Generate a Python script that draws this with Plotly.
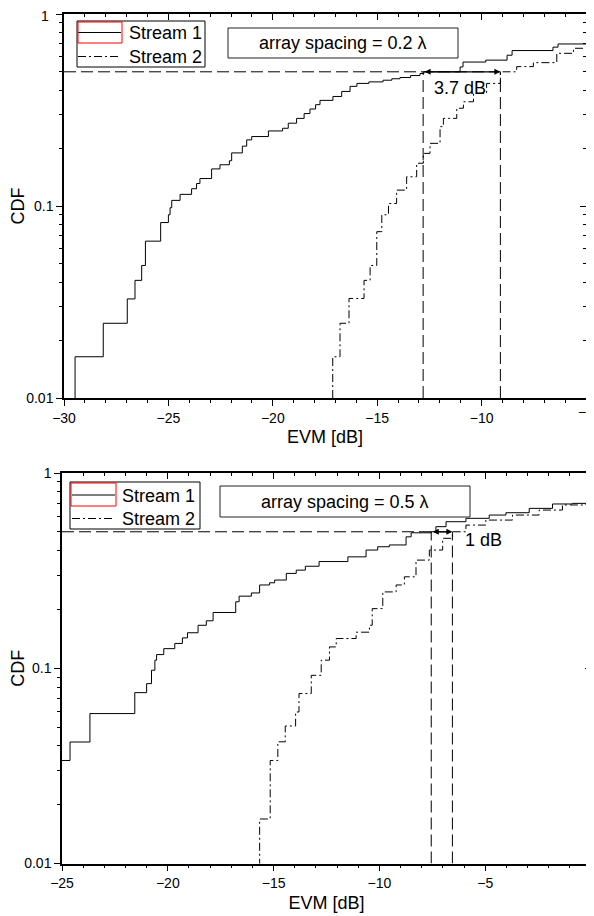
import plotly.graph_objects as go

# ---------------- data ----------------
# Panel A: array spacing = 0.2 lambda  (EVM in dB, CDF)
a_s1_x = [-29.47, -28.12, -26.97, -26.60, -26.28, -26.10, -25.37, -25.00, -24.92, -24.84,
          -24.44, -23.89, -23.65, -23.49, -22.93, -22.53, -22.08, -21.97, -21.46, -21.25,
          -21.01, -20.21, -19.53, -19.26, -18.86, -18.50, -18.22, -17.95, -17.74, -17.12,
          -16.70, -16.30, -15.97, -15.40, -14.72, -14.30, -13.91, -13.40, -12.95, -12.76,
          -11.03, -10.89, -9.80, -8.78, -8.54, -6.58, -6.34]
a_s1_y = [0.0164, 0.0245, 0.0328, 0.041, 0.049, 0.0656, 0.082, 0.090, 0.098, 0.107,
          0.115, 0.123, 0.131, 0.139, 0.156, 0.164, 0.172, 0.189, 0.205, 0.221,
          0.230, 0.246, 0.254, 0.270, 0.286, 0.303, 0.320, 0.337, 0.355, 0.372,
          0.395, 0.420, 0.435, 0.443, 0.452, 0.460, 0.467, 0.478, 0.490, 0.500,
          0.530, 0.562, 0.575, 0.610, 0.645, 0.672, 0.698]
a_s2_x = [-17.13, -16.78, -16.35, -15.63, -15.34, -15.02, -14.78, -14.46, -14.07, -13.59,
          -13.11, -12.79, -12.47, -11.99, -11.83, -11.19, -10.87, -10.39, -9.76, -9.10,
          -8.32, -7.52, -6.40, -5.60]
a_s2_y = [0.0164, 0.0245, 0.033, 0.041, 0.049, 0.0735, 0.090, 0.103, 0.121, 0.142,
          0.167, 0.188, 0.212, 0.259, 0.286, 0.323, 0.349, 0.386, 0.435, 0.500,
          0.532, 0.558, 0.624, 0.663]
a_marks = [-12.8, -9.1]
a_gap_label = "3.7 dB"
a_box_label = "array spacing = 0.2 λ"

# Panel B: array spacing = 0.5 lambda
b_s1_x = [-25.20, -24.62, -23.68, -21.56, -21.00, -20.77, -20.61, -20.53, -20.19, -19.67,
          -19.31, -19.07, -18.57, -18.18, -17.86, -16.79, -16.63, -16.05, -15.66, -15.19,
          -14.95, -14.40, -13.93, -13.50, -12.85, -11.49, -10.63, -10.08, -9.53, -8.74,
          -8.50, -7.56, -7.33, -6.85, -5.91, -4.81, -4.02, -2.92, -1.82, -0.88]
b_s1_y = [0.0337, 0.0419, 0.0586, 0.075, 0.0834, 0.0977, 0.110, 0.1175, 0.126, 0.134,
          0.143, 0.152, 0.166, 0.175, 0.193, 0.219, 0.234, 0.243, 0.267, 0.274,
          0.283, 0.306, 0.318, 0.333, 0.352, 0.372, 0.403, 0.419, 0.428, 0.471,
          0.494, 0.500, 0.531, 0.563, 0.586, 0.609, 0.626, 0.659, 0.694, 0.699]
b_s2_x = [-15.66, -15.16, -14.80, -14.45, -13.96, -13.80, -13.22, -12.75, -12.36, -12.04,
          -11.10, -10.47, -10.34, -9.84, -9.21, -8.82, -8.27, -7.64, -7.01, -6.54,
          -5.91, -4.97, -3.71, -2.45, -1.35, -0.30]
b_s2_y = [0.0169, 0.0337, 0.042, 0.0506, 0.0597, 0.0742, 0.092, 0.110, 0.1286, 0.142,
          0.153, 0.166, 0.202, 0.246, 0.267, 0.294, 0.358, 0.403, 0.463, 0.500,
          0.541, 0.574, 0.609, 0.646, 0.686, 0.694]
b_marks = [-7.55, -6.55]
b_gap_label = "1 dB"
b_box_label = "array spacing = 0.5 λ"

series_names = ["Stream 1", "Stream 2"]
y_tickvals = [0.01, 0.1, 1]
y_ticktext = ["0.01", "0.1", "1"]
ref_level = 0.5
y_min = 0.01
LOG_REF = -0.30103  # log10(0.5); annotations on log axes use log units

# ---------------- figure ----------------
PAGE_OFF = 8                      # default body margin of the html page
W, H = 594 - PAGE_OFF, 916 - PAGE_OFF
FONT = "Liberation Sans, Arial, sans-serif"


def px(xp):  # screen px -> paper fraction
    return (xp - PAGE_OFF) / W


def py(yp):
    return 1 - (yp - PAGE_OFF) / H


def step_xy(xs, ys, x_end):
    return [xs[0]] + xs + [x_end], [0.001] + ys + [ys[-1]]


def x_label(v):
    return ("\u2212" + str(abs(v))) if v < 0 else str(v)


fig = go.Figure()

panels = [
    dict(s1=(a_s1_x, a_s1_y), s2=(a_s2_x, a_s2_y), xr=[-30, -5], xa="x", ya="y",
         xo="x3", yo="y3", axis_y=398, right_px=586),
    dict(s1=(b_s1_x, b_s1_y), s2=(b_s2_x, b_s2_y), xr=[-25, 0], xa="x2", ya="y2",
         xo="x4", yo="y4", axis_y=863.5, right_px=591),
]

S2_DASH = "8px,3px,2px,3px"
for p in panels:
    x1, y1 = step_xy(p["s1"][0], p["s1"][1], p["xr"][1] + 1)
    x2, y2 = step_xy(p["s2"][0], p["s2"][1], p["xr"][1] + 1)
    fig.add_trace(go.Scatter(x=x1, y=y1, mode="lines", line_shape="hv", name=series_names[0],
                             line=dict(color="black", width=1), xaxis=p["xa"], yaxis=p["ya"],
                             showlegend=False))
    fig.add_trace(go.Scatter(x=x2, y=y2, mode="lines", line_shape="hv", name=series_names[1],
                             line=dict(color="black", width=1, dash=S2_DASH),
                             xaxis=p["xa"], yaxis=p["ya"], showlegend=False))
    # invisible helpers so the mirrored (inside-tick) top/right axes get drawn
    fig.add_trace(go.Scatter(x=[p["xr"][0]], y=[0.5], mode="markers", marker=dict(opacity=0),
                             xaxis=p["xo"], yaxis=p["ya"], showlegend=False, hoverinfo="skip"))
    fig.add_trace(go.Scatter(x=[p["xr"][0]], y=[0.5], mode="markers", marker=dict(opacity=0),
                             xaxis=p["xa"], yaxis=p["yo"], showlegend=False, hoverinfo="skip"))

dash_style = dict(color="black", width=1, dash="12px,5px")
shapes = []
annotations = []
for p, marks, gap_lbl, gap_pos in [
    (panels[0], a_marks, a_gap_label, (-11.03, -0.385)),
    (panels[1], b_marks, b_gap_label, (-5.09, -0.344)),
]:
    xa, ya = p["xa"], p["ya"]
    shapes.append(dict(type="line", xref=xa, yref=ya, x0=p["xr"][0], x1=marks[1],
                       y0=ref_level, y1=ref_level, line=dash_style))
    for m in marks:
        shapes.append(dict(type="line", xref=xa, yref=ya, x0=m, x1=m,
                           y0=y_min, y1=ref_level, line=dash_style))
    annotations.append(dict(xref=xa, yref=ya, axref=xa, ayref=ya, x=marks[1], y=LOG_REF,
                            ax=marks[0], ay=LOG_REF, text="", showarrow=True,
                            arrowhead=2, startarrowhead=2, arrowside="end+start", arrowsize=1,
                            arrowwidth=1.2, arrowcolor="black", standoff=0, startstandoff=0))
    annotations.append(dict(xref=xa, yref=ya, x=gap_pos[0], y=gap_pos[1], text=gap_lbl,
                            showarrow=False, font=dict(size=18, color="black", family=FONT)))
    # right-end x tick label (sits on the page edge, as in the reference)
    annotations.append(dict(xref="paper", yref="paper", x=px(p["right_px"]), y=py(p["axis_y"] + 14),
                            text=x_label(p["xr"][1]), showarrow=False, xanchor="center",
                            yanchor="middle", font=dict(size=14, color="black", family=FONT)))

# top "1" tick label of the upper panel (kept just inside the page edge)
annotations.append(dict(xref="paper", yref="paper", x=px(51), y=py(16), text=y_ticktext[2],
                        showarrow=False, xanchor="right", yanchor="middle",
                        font=dict(size=14, color="black", family=FONT)))

# text boxes (screen px)
for (bx0, by0, bx1, by1), lbl in [((228, 28, 458, 58), a_box_label), ((220, 486, 470, 517), b_box_label)]:
    shapes.append(dict(type="rect", xref="paper", yref="paper", x0=px(bx0), x1=px(bx1),
                       y0=py(by1), y1=py(by0), line=dict(color="#222", width=1), fillcolor="white",
                       layer="above"))
    annotations.append(dict(xref="paper", yref="paper", x=px((bx0 + bx1) / 2), y=py((by0 + by1) / 2),
                            text=lbl, showarrow=False, xanchor="center", yanchor="middle",
                            font=dict(size=18, color="black", family=FONT)))

# legends: frame, line samples, labels, red highlight around the Stream 1 sample
legends = [
    dict(box=(77, 21, 205, 67), red=(78, 22, 122, 43), sx=(78, 121), rows=(32.5, 56.5), tx=127),
    dict(box=(70, 482, 200, 529), red=(71, 483, 116, 506), sx=(72, 115), rows=(495, 518.5), tx=120),
]
for lg in legends:
    bx0, by0, bx1, by1 = lg["box"]
    shapes.append(dict(type="rect", xref="paper", yref="paper", x0=px(bx0), x1=px(bx1),
                       y0=py(by1), y1=py(by0), line=dict(color="black", width=1),
                       fillcolor="white", layer="above"))
    for i, (name, dash) in enumerate(zip(series_names, ["solid", S2_DASH])):
        yy = lg["rows"][i]
        shapes.append(dict(type="line", xref="paper", yref="paper", x0=px(lg["sx"][0]),
                           x1=px(lg["sx"][1]), y0=py(yy), y1=py(yy),
                           line=dict(color="black", width=1, dash=dash), layer="above"))
        annotations.append(dict(xref="paper", yref="paper", x=px(lg["tx"]), y=py(yy + 0.5),
                                text=name, showarrow=False, xanchor="left", yanchor="middle",
                                font=dict(size=18, color="black", family=FONT)))
    rx0, ry0, rx1, ry1 = lg["red"]
    shapes.append(dict(type="rect", xref="paper", yref="paper", x0=px(rx0), x1=px(rx1),
                       y0=py(ry1), y1=py(ry0), line=dict(color="red", width=1), layer="above"))

minor_log = [k * d for d in (0.01, 0.1) for k in range(2, 10)]


def xaxis_cfg(dom, xr, side="bottom", overlay=None, anchor=None):
    major = list(range(xr[0], xr[1] + 1, 5))
    minor = [v for v in range(xr[0], xr[1] + 1) if v not in major]
    tdir = "outside" if side == "bottom" else "inside"
    ttext = [x_label(v) for v in major[:-1]] + [""]   # end label drawn as annotation
    cfg = dict(range=xr, tickvals=major, ticktext=ttext, showgrid=False, zeroline=False,
               automargin=False,
               showline=True, linecolor="black", linewidth=1.5, tickcolor="black",
               ticklen=6, tickwidth=1, anchor=anchor, fixedrange=True,
               ticklabeloverflow="allow",
               tickfont=dict(size=14, family=FONT, color="black"),
               minor=dict(tickvals=minor, ticklen=3, tickcolor="black", tickwidth=1, ticks=tdir),
               ticks=tdir, side=side)
    if overlay:
        cfg.update(overlaying=overlay, showticklabels=False)
    else:
        cfg["domain"] = dom
        cfg["title"] = dict(text="EVM [dB]", font=dict(size=18, family=FONT, color="black"), standoff=6)
    return cfg


def yaxis_cfg(dom, side="left", overlay=None, anchor=None, top_label=True):
    tdir = "outside" if side == "left" else "inside"
    ttext = list(y_ticktext) if top_label else y_ticktext[:2] + [""]
    cfg = dict(type="log", range=[-2, 0], tickvals=y_tickvals,
               ticktext=ttext, showgrid=False, zeroline=False, automargin=False,
               showline=True, linecolor="black", linewidth=1.5, tickcolor="black",
               ticklen=6, tickwidth=1, anchor=anchor, fixedrange=True,
               ticklabeloverflow="allow",
               tickfont=dict(size=14, family=FONT, color="black"),
               minor=dict(tickvals=minor_log, ticklen=3, tickcolor="black", tickwidth=1, ticks=tdir),
               ticks=tdir, side=side)
    if overlay:
        cfg.update(overlaying=overlay, showticklabels=False)
    else:
        cfg["domain"] = dom
        cfg["title"] = dict(text="CDF", font=dict(size=18, family=FONT, color="black"), standoff=0)
    return cfg


fig.update_layout(
    width=W, height=H, margin=dict(l=0, r=0, t=0, b=0, autoexpand=False),
    paper_bgcolor="white", plot_bgcolor="white",
    font=dict(family=FONT, color="black"),
    xaxis=xaxis_cfg([px(64), px(586)], [-30, -5], anchor="y"),
    yaxis=yaxis_cfg([py(398), py(14)], anchor="x", top_label=False),
    xaxis3=xaxis_cfg(None, [-30, -5], side="top", overlay="x", anchor="y"),
    yaxis3=yaxis_cfg(None, side="right", overlay="y", anchor="x"),
    xaxis2=xaxis_cfg([px(62), px(591)], [-25, 0], anchor="y2"),
    yaxis2=yaxis_cfg([py(863.5), py(473)], anchor="x2"),
    xaxis4=xaxis_cfg(None, [-25, 0], side="top", overlay="x2", anchor="y2"),
    yaxis4=yaxis_cfg(None, side="right", overlay="y2", anchor="x2"),
    shapes=shapes, annotations=annotations, showlegend=False,
)

fig.write_html("out.html")
